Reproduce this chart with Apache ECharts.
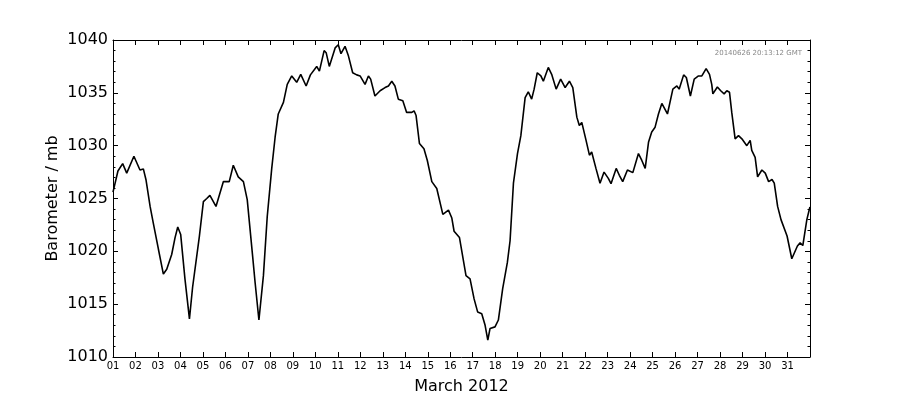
<!DOCTYPE html>
<html>
<head>
<meta charset="utf-8">
<script src="https://cdn.jsdelivr.net/npm/echarts@6/dist/echarts.min.js"></script>
<style>
  html, body { margin: 0; padding: 0; background: #fff; }
  #grafico { width: 900px; height: 400px; }
</style>
</head>
<body>
<div id="grafico"></div>
<script>
// Tiempo en días (1 = 1 de marzo 00:00) y presión en mb
var dias = [
  1.00, 1.04, 1.22, 1.43, 1.61, 1.93, 2.20, 2.35, 2.47, 2.65, 2.79, 3.02, 3.24, 3.39, 3.61, 3.76, 3.88,
  4.01, 4.20, 4.40, 4.54, 4.84, 5.02, 5.17, 5.31, 5.58, 5.91, 6.17, 6.35, 6.57, 6.80, 6.97,
  7.21, 7.32, 7.49, 7.69, 7.86, 8.06, 8.21, 8.35, 8.58, 8.75, 8.95, 9.17, 9.35, 9.59, 9.78,
  10.06, 10.18, 10.39, 10.48, 10.62, 10.88, 11.02, 11.14, 11.32, 11.47, 11.66, 11.84, 11.99,
  12.21, 12.36, 12.46, 12.65, 12.88, 13.10, 13.25, 13.40, 13.54, 13.69, 13.89, 14.06, 14.29,
  14.39, 14.48, 14.63, 14.83, 14.98, 15.18, 15.40, 15.67, 15.92, 16.07, 16.17, 16.41, 16.70,
  16.88, 17.06, 17.22, 17.40, 17.55, 17.67, 17.77, 17.99, 18.14, 18.33, 18.54, 18.66, 18.81,
  18.99, 19.14, 19.33, 19.47, 19.62, 19.73, 19.87, 20.03, 20.14, 20.36, 20.51, 20.71, 20.91,
  21.11, 21.30, 21.45, 21.63, 21.74, 21.85, 22.04, 22.19, 22.29, 22.48, 22.66, 22.84, 23.03,
  23.15, 23.38, 23.52, 23.67, 23.88, 24.12, 24.37, 24.52, 24.67, 24.82, 24.96, 25.11, 25.26,
  25.41, 25.66, 25.90, 26.08, 26.18, 26.38, 26.50, 26.68, 26.85, 27.04, 27.19, 27.38, 27.53,
  27.63, 27.68, 27.88, 28.03, 28.18, 28.30, 28.42, 28.52, 28.67, 28.82, 28.97, 29.19, 29.34,
  29.41, 29.56, 29.67, 29.86, 30.01, 30.16, 30.31, 30.41, 30.56, 30.71, 30.98, 31.19, 31.26,
  31.44, 31.56, 31.68, 31.86, 31.98, 32.00
];
var presion = [
  1025.6, 1025.7, 1027.6, 1028.3, 1027.4, 1029.0, 1027.7, 1027.8, 1026.75, 1024.25, 1022.7, 1020.2, 1017.85, 1018.3, 1019.7, 1021.3, 1022.3,
  1021.6, 1017.4, 1013.6, 1016.6, 1021.4, 1024.7, 1025.0, 1025.3, 1024.25, 1026.6, 1026.6, 1028.15, 1027.05, 1026.6, 1024.9,
  1019.55, 1017.05, 1013.5, 1017.7, 1023.3, 1027.85, 1030.8, 1033.0, 1034.1, 1035.8, 1036.6, 1036.0, 1036.75, 1035.65, 1036.7,
  1037.5, 1037.05, 1039.0, 1038.8, 1037.5, 1039.25, 1039.55, 1038.7, 1039.4, 1038.5, 1036.9, 1036.7, 1036.6,
  1035.8, 1036.6, 1036.3, 1034.7, 1035.2, 1035.5, 1035.65, 1036.1, 1035.65, 1034.4, 1034.25, 1033.15, 1033.15,
  1033.3, 1032.85, 1030.2, 1029.7, 1028.6, 1026.6, 1025.95, 1023.5, 1023.9, 1023.15, 1021.9, 1021.3, 1017.7,
  1017.4, 1015.5, 1014.25, 1014.1, 1013.0, 1011.6, 1012.7, 1012.85, 1013.5, 1016.45, 1018.95, 1021.0, 1026.45,
  1029.25, 1030.95, 1034.55, 1035.1, 1034.4, 1035.35, 1036.9, 1036.6, 1036.1, 1037.4, 1036.75, 1035.35, 1036.3,
  1035.5, 1036.1, 1035.5, 1032.7, 1031.9, 1032.2, 1030.5, 1029.1, 1029.4, 1027.85, 1026.45, 1027.5, 1026.9,
  1026.4, 1027.85, 1027.2, 1026.6, 1027.7, 1027.45, 1029.25, 1028.6, 1027.85, 1030.35, 1031.3, 1031.75, 1033.0,
  1034.0, 1033.0, 1035.35, 1035.65, 1035.35, 1036.7, 1036.45, 1034.7, 1036.3, 1036.6, 1036.6, 1037.3, 1036.75,
  1035.8, 1034.9, 1035.55, 1035.2, 1034.9, 1035.2, 1035.05, 1033.15, 1030.65, 1030.95, 1030.65, 1030.0, 1030.5,
  1029.55, 1028.9, 1027.05, 1027.7, 1027.4, 1026.6, 1026.8, 1026.45, 1024.25, 1023.0, 1021.45, 1019.3, 1019.25,
  1020.5, 1020.8, 1020.55, 1023.0, 1024.05, 1024.2
];
var marcaTiempo = '20140626 20:13:12 GMT';

var myChart = echarts.init(document.getElementById('grafico'));

var puntos = dias.map(function (d, i) { return [d, presion[i]]; });

var ejeX = {
  type: 'value', min: 1, max: 32, interval: 1,
  axisLine: { lineStyle: { color: '#000', width: 1 } },
  axisTick: { inside: true, length: 5, lineStyle: { color: '#000' } },
  splitLine: { show: false }
};
var ejeY = {
  type: 'value', min: 1010, max: 1040, interval: 5,
  axisLine: { show: true, lineStyle: { color: '#000', width: 1 } },
  axisTick: { inside: true, length: 5, lineStyle: { color: '#000' } },
  minorTick: { show: true, splitNumber: 5, length: 2.5, lineStyle: { color: '#000' } },
  splitLine: { show: false }
};

var option = {
  animation: false,
  backgroundColor: '#fff',
  grid: { left: 113, right: 90, top: 40, bottom: 40, containLabel: false },
  graphic: [{
    type: 'text', right: 98, top: 50,
    style: { text: marcaTiempo, fill: '#888', font: '7px "DejaVu Sans"', textAlign: 'right' }
  }],
  xAxis: [
    Object.assign({}, ejeX, {
      position: 'bottom',
      name: 'March 2012', nameLocation: 'middle', nameGap: 22,
      nameTextStyle: { color: '#000', fontSize: 16, fontFamily: 'DejaVu Sans' },
      axisLabel: {
        color: '#000', fontSize: 10, fontFamily: 'DejaVu Sans', margin: 4,
        showMaxLabel: false,
        formatter: function (v) { return v < 32 ? (v < 10 ? '0' + v : '' + v) : ''; }
      }
    }),
    Object.assign({}, ejeX, { position: 'top', axisLabel: { show: false } })
  ],
  yAxis: [
    Object.assign({}, ejeY, {
      position: 'left',
      name: 'Barometer / mb', nameLocation: 'middle', nameGap: 52, nameRotate: 90,
      nameMoveOverlap: false,
      nameTextStyle: { color: '#000', fontSize: 16, fontFamily: 'DejaVu Sans' },
      axisLabel: {
        color: '#000', fontSize: 16, fontFamily: 'DejaVu Sans', margin: 5,
        formatter: function (v) { return '' + v; }
      }
    }),
    Object.assign({}, ejeY, { position: 'right', axisLabel: { show: false } })
  ],
  series: [{
    type: 'line',
    data: puntos,
    showSymbol: false,
    lineStyle: { color: '#000', width: 1.6 },
    itemStyle: { color: '#000' }
  }]
};

myChart.setOption(option);
</script>
</body>
</html>
